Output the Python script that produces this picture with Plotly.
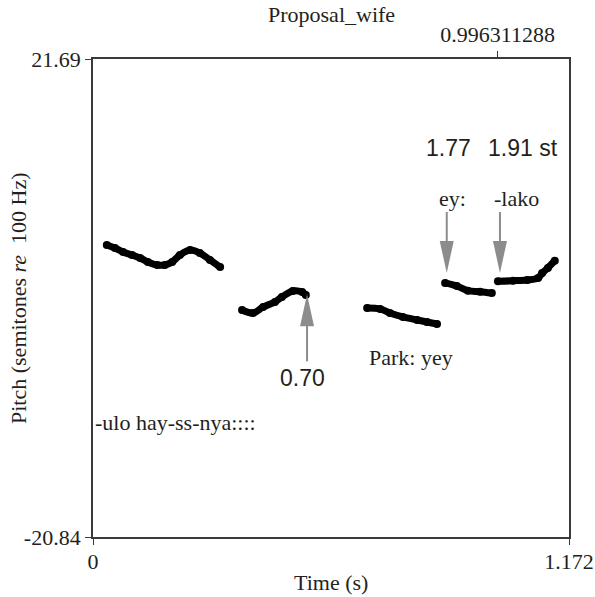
import plotly.graph_objects as go

# pitch contour (time in s, pitch in semitones re 100 Hz)
seg1_t = [0.034, 0.054, 0.074, 0.096, 0.116, 0.135, 0.158, 0.177, 0.195, 0.214, 0.239, 0.263, 0.288, 0.313]
seg1_p = [5.14, 4.87, 4.52, 4.25, 3.98, 3.63, 3.36, 3.36, 3.63, 4.25, 4.70, 4.43, 3.81, 3.18]
seg2_t = [0.367, 0.394, 0.419, 0.448, 0.465, 0.492, 0.515, 0.524]
seg2_p = [-0.64, -0.91, -0.37, 0.07, 0.52, 1.05, 0.96, 0.70]
seg3_t = [0.675, 0.707, 0.731, 0.763, 0.798, 0.822, 0.847]
seg3_p = [-0.46, -0.55, -0.91, -1.26, -1.53, -1.71, -1.89]
seg4_t = [0.867, 0.896, 0.923, 0.953, 0.982]
seg4_p = [1.77, 1.49, 1.08, 0.99, 0.87]
seg5_t = [0.997, 1.034, 1.069, 1.096, 1.106, 1.120, 1.137]
seg5_p = [1.91, 1.96, 2.03, 2.21, 2.65, 3.10, 3.74]

x_min, x_max = 0, 1.172
y_min, y_max = -20.84, 21.69
top_tick = 0.996311288

SERIF = "Liberation Serif"
SANS = "Liberation Sans"
TXT = '#231f20'
ARROW = '#8c8c8c'

fig = go.Figure()
for t, p in [(seg1_t, seg1_p), (seg2_t, seg2_p), (seg3_t, seg3_p), (seg4_t, seg4_p), (seg5_t, seg5_p)]:
    fig.add_trace(go.Scatter(
        x=t, y=p,
        mode='lines+markers',
        line=dict(color='black', width=7, shape='spline'),
        marker=dict(color='black', size=8),
        showlegend=False,
        hoverinfo='skip',
    ))
# invisible trace so the top axis is drawn
fig.add_trace(go.Scatter(x=[x_min, x_max], y=[y_min, y_min], xaxis='x2', mode='markers',
                         marker=dict(opacity=0), showlegend=False, hoverinfo='skip'))

# arrows: tip time, tip pitch, direction (+1 points down, -1 points up), shaft length in px
arrows = [(0.527, 0.75, -1, 67), (0.871, 2.65, 1, 61), (1.002, 2.65, 1, 61)]
head_len, head_half = 32, 7
for t, p, d, length in arrows:
    fig.add_shape(type='path', xref='x', yref='y', xsizemode='pixel', ysizemode='pixel',
                  xanchor=t, yanchor=p,
                  path=f'M 0,0 L {-head_half},{d * head_len} L {head_half},{d * head_len} Z',
                  fillcolor=ARROW, line=dict(width=0))
    fig.add_shape(type='path', xref='x', yref='y', xsizemode='pixel', ysizemode='pixel',
                  xanchor=t, yanchor=p,
                  path=f'M 0,{d * (head_len - 2)} L 0,{d * length}',
                  line=dict(color=ARROW, width=2))

labels = [
    ("0.70", 0.515, -6.69, SANS, 23),
    ("1.77", 0.876, 13.77, SANS, 23),
    ("1.91 st", 1.059, 13.77, SANS, 23),
    ("ey:", 0.886, 9.32, SERIF, 22),
    ("-lako", 1.043, 9.32, SERIF, 22),
    ("Park: yey", 0.783, -4.91, SERIF, 22),
    ("-ulo hay-ss-nya::::", 0.204, -10.61, SERIF, 22),
]
for txt, t, p, fam, size in labels:
    fig.add_annotation(x=t, y=p, xref='x', yref='y', text=txt, showarrow=False,
                       font=dict(family=fam, size=size, color=TXT))

fig.add_annotation(x=0.5, y=1.0, xref='paper', yref='paper', yshift=45, yanchor='middle',
                   text='Proposal_wife', showarrow=False,
                   font=dict(family=SERIF, size=22, color=TXT))
fig.add_annotation(x=0.5, y=0, xref='paper', yref='paper', yshift=-45, yanchor='middle',
                   text='Time (s)', showarrow=False,
                   font=dict(family=SERIF, size=22, color=TXT))
fig.add_annotation(x=0, y=0.5, xref='paper', yref='paper', xshift=-75, xanchor='center',
                   yanchor='middle', text='Pitch (semitones <i>re</i>  100 Hz)', textangle=-90,
                   showarrow=False, font=dict(family=SERIF, size=22, color=TXT))

axis_style = dict(showgrid=False, zeroline=False, showline=True, linecolor='#3a3a3a', linewidth=1.8,
                  ticks='outside', ticklen=6, tickcolor='#3a3a3a', tickwidth=1.3, automargin=False,
                  tickfont=dict(family=SERIF, size=22, color=TXT))

fig.update_layout(
    width=595, height=597,
    margin=dict(l=93, r=26, t=59, b=60, autoexpand=False),
    plot_bgcolor='white', paper_bgcolor='white',
    xaxis=dict(range=[x_min, x_max], tickvals=[x_min, x_max], ticktext=['0', '1.172'],
               mirror=True, ticklabelstandoff=-2, **axis_style),
    xaxis2=dict(range=[x_min, x_max], overlaying='x', side='top', tickvals=[top_tick],
                ticktext=['0.996311288'], **axis_style),
    yaxis=dict(range=[y_min, y_max], tickvals=[y_min, y_max], ticktext=['-20.84', '21.69'],
               mirror=True, ticklabelstandoff=0, **axis_style),
)

# drop the default 8px page margin so the figure fills the window exactly
fig.write_html("out.html", config=dict(displayModeBar=False),
               post_script="document.body.style.margin='0';")
